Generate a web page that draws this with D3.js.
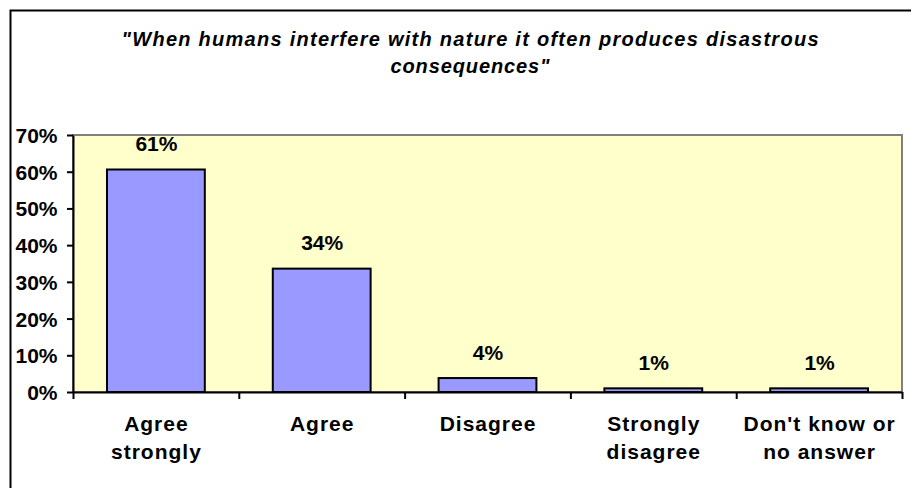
<!DOCTYPE html>
<html>
<head>
<meta charset="utf-8">
<script src="https://cdn.jsdelivr.net/npm/d3@7"></script>
<style>
  html, body { margin: 0; padding: 0; background: #fff; }
  svg { display: block; }
  text { font-family: Arial, "Liberation Sans", sans-serif; font-weight: bold; fill: #000; }
</style>
</head>
<body>
<svg id="chart" width="911" height="488"></svg>
<script>
// ---- data ----
const categories = [["Agree", "strongly"], ["Agree"], ["Disagree"], ["Strongly", "disagree"], ["Don't know or", "no answer"]];
const values = [60.6, 33.6, 3.8, 1.0, 1.0];   // percent
const yTicks = [0, 10, 20, 30, 40, 50, 60, 70];
const titleLines = ["\"When humans interfere with nature it often produces disastrous", "consequences\""];

// ---- layout ----
const svg = d3.select("#chart");
const plot = { left: 73, top: 135, right: 902, bottom: 392 };

// outer chart border (extends past right/bottom edge)
svg.append("rect").attr("x", 0).attr("y", 0).attr("width", 911).attr("height", 488).attr("fill", "#fff");
svg.append("rect").attr("x", 10.5).attr("y", 10.5).attr("width", 940).attr("height", 520)
  .attr("fill", "none").attr("stroke", "#000").attr("stroke-width", 2);

// title
const titleWidths = [697, 159];
titleLines.forEach((t, i) => {
  svg.append("text")
    .attr("x", 470).attr("y", 46 + i * 27)
    .attr("text-anchor", "middle")
    .attr("font-size", 20).attr("font-style", "italic")
    .attr("textLength", titleWidths[i]).attr("lengthAdjust", "spacing")
    .text(t);
});

// scales
const x = d3.scaleBand().domain(d3.range(values.length))
  .range([plot.left, plot.right]).paddingInner(0.41).paddingOuter(0.205);
const xb = d3.scaleLinear().domain([0, values.length]).range([plot.left, plot.right]);
const y = d3.scaleLinear().domain([0, 70]).range([plot.bottom, plot.top]);

// plot background
svg.append("rect")
  .attr("x", plot.left).attr("y", plot.top)
  .attr("width", plot.right - plot.left).attr("height", plot.bottom - plot.top)
  .attr("fill", "#FFFFCC").attr("stroke", "#808080").attr("stroke-width", 2);

// bars
svg.append("g").selectAll("rect").data(values).join("rect")
  .attr("x", (d, i) => x(i)).attr("width", x.bandwidth())
  .attr("y", d => y(d)).attr("height", d => y(0) - y(d))
  .attr("fill", "#9999FF").attr("stroke", "#000").attr("stroke-width", 2);

// value labels
const fmt = d3.format(".0%");
svg.append("g").selectAll("text").data(values).join("text")
  .attr("x", (d, i) => x(i) + x.bandwidth() / 2 + 0.5)
  .attr("y", d => y(d) - 18.5)
  .attr("text-anchor", "middle")
  .attr("font-size", 21)
  .text(d => fmt(d / 100));

// y axis
const yAxis = svg.append("g").attr("transform", `translate(${plot.left},0)`)
  .call(d3.axisLeft(y).tickValues(yTicks).tickFormat(d => d + "%").tickSize(6).tickSizeOuter(0).tickPadding(9.5));
yAxis.select(".domain").attr("stroke", "#000").attr("stroke-width", 2);
yAxis.selectAll(".tick line").attr("stroke", "#000").attr("stroke-width", 2);
yAxis.selectAll(".tick text")
  .attr("font-size", 21).attr("dy", "0.36em")
  .attr("font-family", "Arial, 'Liberation Sans', sans-serif").attr("font-weight", "bold").attr("fill", "#000");

// x axis (ticks at category boundaries)
const xAxis = svg.append("g").attr("transform", `translate(0,${plot.bottom})`)
  .call(d3.axisBottom(xb).tickValues(d3.range(values.length + 1)).tickFormat("").tickSize(7).tickSizeOuter(0));
xAxis.select(".domain").attr("stroke", "#000").attr("stroke-width", 2);
xAxis.selectAll(".tick line").attr("stroke", "#000").attr("stroke-width", 2);

// category labels
const catG = svg.append("g").selectAll("text").data(categories).join("text")
  .attr("text-anchor", "middle")
  .attr("font-size", 21).attr("letter-spacing", "1px");
catG.each(function(lines, i) {
  const t = d3.select(this);
  lines.forEach((ln, j) => {
    t.append("tspan")
      .attr("x", x(i) + x.bandwidth() / 2 + 0.5)
      .attr("y", 431 + j * 28)
      .text(ln);
  });
});
</script>
</body>
</html>
